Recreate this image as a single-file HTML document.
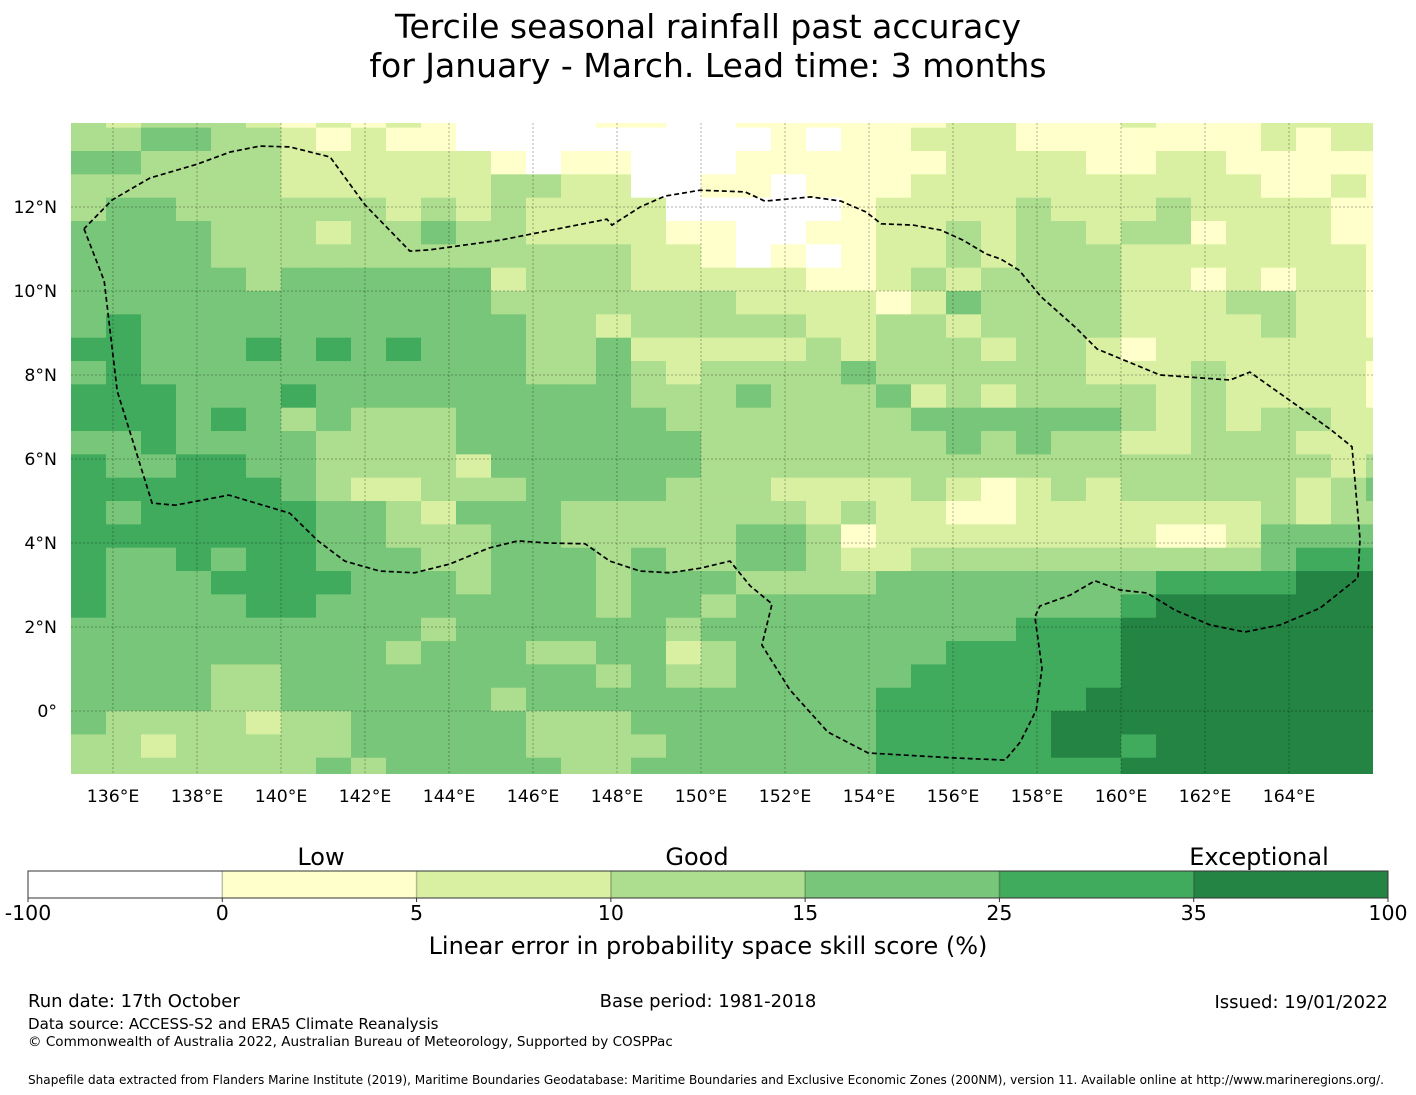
<!DOCTYPE html>
<html><head><meta charset="utf-8">
<style>
html,body{margin:0;padding:0;background:#fff;}
svg{display:block;font-family:"DejaVu Sans","Liberation Sans",sans-serif;}
</style></head>
<body>
<svg id="fig" width="1416" height="1095" viewBox="0 0 1416 1095" xmlns="http://www.w3.org/2000/svg">
<text x="708" y="38" font-size="33" text-anchor="middle">Tercile seasonal rainfall past accuracy</text>
<text x="708" y="77" font-size="33" text-anchor="middle">for January - March. Lead time: 3 months</text>
<defs><clipPath id="mapclip"><rect x="71" y="123" width="1302" height="651"/></clipPath></defs>
<g id="cells" clip-path="url(#mapclip)"></g>
<g id="grid" clip-path="url(#mapclip)"></g>
<g id="eez" clip-path="url(#mapclip)"></g>
<g id="xticks"></g>
<g id="yticks"></g>
<g id="cbar"></g>
<text x="321" y="865" font-size="24" text-anchor="middle">Low</text>
<text x="697" y="865" font-size="24" text-anchor="middle">Good</text>
<text x="1259" y="865" font-size="24" text-anchor="middle">Exceptional</text>
<text x="708" y="954" font-size="24" text-anchor="middle">Linear error in probability space skill score (%)</text>
<text x="28" y="1007" font-size="18">Run date: 17th October</text>
<text x="708" y="1007" font-size="18" text-anchor="middle">Base period: 1981-2018</text>
<text x="1388" y="1008" font-size="18" text-anchor="end">Issued: 19/01/2022</text>
<text x="28" y="1029" font-size="15.1">Data source: ACCESS-S2 and ERA5 Climate Reanalysis</text>
<text x="28" y="1046" font-size="13.55">© Commonwealth of Australia 2022, Australian Bureau of Meteorology, Supported by COSPPac</text>
<text x="28" y="1084" font-size="12.07">Shapefile data extracted from Flanders Marine Institute (2019), Maritime Boundaries Geodatabase: Maritime Boundaries and Exclusive Economic Zones (200NM), version 11. Available online at http://www.marineregions.org/.</text>
</svg>
<script>
// skill class per cell (0:<0, 1:0-5, 2:5-10, 3:10-15, 4:15-25, 5:25-35, 6:35-100); rows north->south, cols west->east
const skillRows = [
[3,2,3,3,3,2,1,2,1,2,1,0,0, 0,0,1,1,0,0,1,1,1,1,1,1,2, 2,1,1,1,2,1,1,1,2,2,2,2],
[3,3,4,4,3,3,2,1,2,1,1,0,0, 0,0,0,0,0,0,0,1,0,1,1,2,2, 2,1,1,1,1,1,1,1,2,1,2,2],
[4,4,3,3,3,3,2,2,2,2,2,2,1, 0,1,1,0,0,0,1,1,1,1,1,1,2, 2,2,2,1,1,2,2,1,1,1,1,1],
[3,3,3,3,3,3,2,2,2,2,2,2,3, 3,2,2,0,0,1,1,0,1,1,1,2,2, 2,2,2,2,2,2,2,2,1,1,2,1],
[3,4,4,3,3,3,3,3,3,2,3,2,3, 2,2,2,2,0,0,0,0,0,1,2,2,2, 2,3,2,2,2,3,2,2,2,2,1,1],
[4,4,4,4,3,3,3,2,3,3,4,3,3, 2,2,2,2,1,1,0,0,1,1,2,2,3, 2,3,3,2,3,3,1,2,2,2,1,1],
[4,4,4,4,3,3,3,3,3,3,3,3,3, 3,3,3,2,2,1,0,1,0,1,2,2,3, 2,3,3,3,2,2,2,2,2,2,2,1],
[4,4,4,4,4,3,4,4,4,4,4,4,2, 3,3,3,2,2,2,2,2,1,1,2,3,2, 3,3,3,3,2,2,1,2,1,2,2,1],
[4,4,4,4,4,4,4,4,4,4,4,4,3, 3,3,3,3,3,3,2,2,2,2,1,2,4, 3,3,3,3,2,2,2,3,3,2,2,1],
[4,5,4,4,4,4,4,4,4,4,4,4,4, 3,3,2,3,3,3,3,3,2,2,3,3,2, 3,3,3,3,2,2,2,2,3,2,2,1],
[5,5,4,4,4,5,4,5,4,5,4,4,4, 3,3,4,2,2,2,2,2,3,2,3,3,3, 2,3,3,2,1,2,2,2,2,2,2,2],
[4,5,4,4,4,4,4,4,4,4,4,4,4, 3,3,4,3,2,3,3,3,3,4,3,3,3, 3,3,3,2,2,2,3,2,2,2,2,1],
[5,5,5,4,4,4,5,4,4,4,4,4,4, 4,4,4,3,3,3,4,3,3,3,4,2,3, 2,3,3,3,3,2,3,2,2,2,2,1],
[5,5,5,4,5,4,3,4,3,3,3,4,4, 4,4,4,4,3,3,3,3,3,3,3,4,4, 4,4,4,4,3,2,3,2,3,3,2,2],
[4,4,5,4,4,4,4,3,3,3,3,4,4, 4,4,4,4,4,3,3,3,3,3,3,3,4, 3,4,3,3,2,2,3,3,3,2,2,2],
[5,4,4,5,5,4,4,3,3,3,3,2,4, 4,4,4,4,4,3,3,3,3,3,3,3,3, 3,3,3,3,3,3,3,3,3,3,2,3],
[5,5,5,5,5,5,4,3,2,2,3,3,3, 4,4,4,4,3,3,3,2,2,2,2,3,2, 1,2,3,2,3,3,3,3,3,2,3,4],
[5,4,5,5,5,5,5,4,4,3,2,4,4, 4,3,3,3,3,3,3,3,2,3,2,2,1, 1,2,2,2,2,2,2,2,3,2,3,3],
[5,5,5,5,5,5,5,4,4,3,3,3,4, 4,3,3,3,3,3,4,4,3,1,2,2,2, 2,2,2,2,2,1,1,2,4,4,4,4],
[5,4,4,5,4,5,5,4,4,4,3,3,4, 4,4,3,4,3,3,4,4,3,2,2,3,3, 3,3,3,3,3,3,3,3,4,5,5,5],
[5,4,4,4,5,5,5,5,4,4,4,3,4, 4,4,3,4,4,4,3,3,3,3,4,4,4, 4,4,4,4,4,5,5,5,5,6,6,6],
[5,4,4,4,4,5,5,4,4,4,4,4,4, 4,4,3,4,4,3,4,4,4,4,4,4,4, 4,4,4,4,5,6,6,6,6,6,6,6],
[4,4,4,4,4,4,4,4,4,4,3,4,4, 4,4,4,4,3,4,4,4,4,4,4,4,4, 4,5,5,5,6,6,6,6,6,6,6,6],
[4,4,4,4,4,4,4,4,4,3,4,4,4, 3,3,4,4,2,3,4,4,4,4,4,4,5, 5,5,5,5,6,6,6,6,6,6,6,6],
[4,4,4,4,3,3,4,4,4,4,4,4,4, 4,4,3,4,3,3,4,4,4,4,4,5,5, 5,5,5,5,6,6,6,6,6,6,6,6],
[4,4,4,4,3,3,4,4,4,4,4,4,3, 4,4,4,4,4,4,4,4,4,4,5,5,5, 5,5,5,6,6,6,6,6,6,6,6,6],
[4,3,3,3,3,2,3,3,4,4,4,4,4, 3,3,3,4,4,4,4,4,4,4,5,5,5, 5,5,6,6,6,6,6,6,6,6,6,6],
[3,3,2,3,3,3,3,3,4,4,4,4,4, 3,3,3,3,4,4,4,4,4,4,5,5,5, 5,5,6,6,5,6,6,6,6,6,6,6],
[3,3,3,3,3,3,3,4,3,4,4,4,4, 4,3,3,4,4,4,4,4,4,4,5,5,5, 5,5,5,5,6,6,6,6,6,6,6,6]
];
const classColors = ["#ffffff","#ffffcc","#d9f0a3","#addd8e","#78c679","#41ab5d","#238443"];
const cbarTicks = ["-100","0","5","10","15","25","35","100"];
const lonTicks = [136,138,140,142,144,146,148,150,152,154,156,158,160,162,164];
const latTicks = [0,2,4,6,8,10,12];
const eezLon = [135.31,135.79,136.10,136.93,137.48,138.76,140.21,140.88,141.52,142.35,143.18,144.02,144.95,145.64,146.36,147.24,147.83,148.55,149.26,149.98,150.69,151.17,151.69,151.45,152.12,153.02,153.98,156.05,157.24,157.60,157.98,158.12,157.95,158.07,158.79,159.38,159.98,160.62,161.29,162.12,162.95,163.79,164.74,165.64,165.69,165.50,164.98,164.14,163.07,162.60,160.93,159.43,158.91,158.10,157.57,157.14,156.79,156.24,155.71,155.05,154.29,153.93,153.33,152.62,151.52,151.05,149.98,149.14,148.55,147.88,147.76,145.21,143.55,143.07,142.00,141.17,140.21,139.50,138.79,138.00,136.88,135.98,135.31];
const eezLat = [11.48,10.24,7.62,4.95,4.90,5.14,4.71,4.05,3.57,3.33,3.29,3.50,3.88,4.05,4.00,3.98,3.57,3.33,3.29,3.40,3.57,2.98,2.55,1.57,0.50,-0.50,-1.00,-1.12,-1.17,-0.74,0.02,1.02,2.24,2.50,2.76,3.10,2.88,2.81,2.40,2.05,1.88,2.05,2.45,3.17,4.10,6.29,6.71,7.31,8.07,7.88,8.00,8.62,9.14,9.86,10.50,10.76,10.88,11.21,11.45,11.57,11.60,11.88,12.14,12.24,12.14,12.36,12.40,12.26,12.00,11.57,11.71,11.21,10.98,10.95,12.05,13.19,13.43,13.45,13.31,13.02,12.69,12.17,11.48];

const NS="http://www.w3.org/2000/svg";
const X0=71, Y0=123, W=1302, H=651, PXDEG=42, LON0=135, LATTOP=14;
const CELL_DLON=35/42, CELL_DLAT=0.5556, FIRST_ROW_LAT=13.8889;
function xScale(lon){return X0+(lon-LON0)*PXDEG;}
function yScale(lat){return Y0+(LATTOP-lat)*PXDEG;}
function mk(tag,attrs,parent){const e=document.createElementNS(NS,tag);for(const k in attrs)e.setAttribute(k,attrs[k]);parent.appendChild(e);return e;}

const cells=document.getElementById('cells');
skillRows.forEach((row,r)=>{
  const latTop = r===0 ? LATTOP : FIRST_ROW_LAT-(r-1)*CELL_DLAT;
  const latBot = FIRST_ROW_LAT-r*CELL_DLAT;
  row.forEach((v,c)=>{
    const lonL=LON0+c*CELL_DLON, lonR=lonL+CELL_DLON;
    const x=xScale(lonL), y=yScale(latTop);
    const rc=mk('rect',{x:x,y:y,width:xScale(lonR)-x+0.6,height:yScale(latBot)-y+0.6,fill:classColors[v]},cells);
    
    
  });
});

const grid=document.getElementById('grid');
lonTicks.forEach(l=>{
  const ln=mk('line',{x1:xScale(l),x2:xScale(l),y1:Y0,y2:Y0+H,stroke:'rgba(0,0,0,0.3)','stroke-width':1,'stroke-dasharray':'2,2'},grid);
  
  
});
latTicks.forEach(l=>{
  const ln=mk('line',{x1:X0,x2:X0+W,y1:yScale(l),y2:yScale(l),stroke:'rgba(0,0,0,0.3)','stroke-width':1,'stroke-dasharray':'2,2'},grid);
  
  
});

const eez=document.getElementById('eez');
const pts=eezLon.map((l,i)=>xScale(l).toFixed(1)+','+yScale(eezLat[i]).toFixed(1)).join(' ');
const pl=mk('polyline',{points:pts,fill:'none',stroke:'#000','stroke-width':1.7,'stroke-dasharray':'5,3'},eez);



const xt=document.getElementById('xticks');
lonTicks.forEach(l=>{
  const t=mk('text',{x:xScale(l),y:802,'font-size':17.3,'text-anchor':'middle'},xt);
  t.textContent=l+'°E';
  
  
});
const yt=document.getElementById('yticks');
latTicks.forEach(l=>{
  const t=mk('text',{x:57,y:yScale(l)+6,'font-size':17.3,'text-anchor':'end'},yt);
  t.textContent=l===0?'0°':l+'°N';
  
  
});

const cb=document.getElementById('cbar');
const CBX=28, CBW=1360, CBY=871, CBH=27, segW=CBW/classColors.length;
classColors.forEach((col,i)=>{
  const r=mk('rect',{x:CBX+i*segW,y:CBY,width:segW,height:CBH,fill:col},cb);
  
  
  if(i>0){const d=mk('line',{x1:CBX+i*segW,x2:CBX+i*segW,y1:CBY,y2:CBY+CBH,stroke:'rgba(0,0,0,0.25)','stroke-width':1.5},cb);
    
    }
});
const ob=mk('rect',{x:CBX,y:CBY,width:CBW,height:CBH,fill:'none',stroke:'#333','stroke-width':1},cb);


cbarTicks.forEach((lab,i)=>{
  const x=CBX+i*segW;
  const tk=mk('line',{x1:x,x2:x,y1:CBY+CBH,y2:CBY+CBH+4,stroke:'#333'},cb);
  
  
  const t=mk('text',{x:x,y:920,'font-size':20.5,'text-anchor':'middle'},cb);
  t.textContent=lab;
  
  
});
</script>
</body></html>
